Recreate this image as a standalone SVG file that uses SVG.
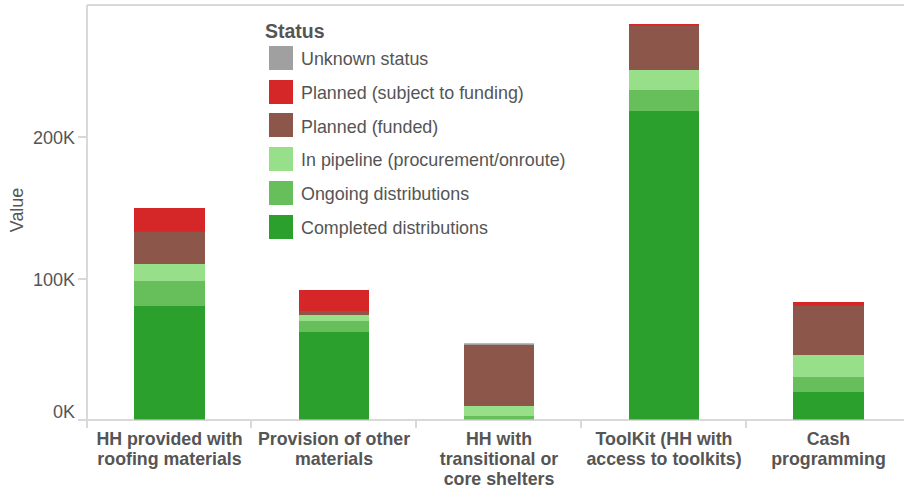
<svg xmlns="http://www.w3.org/2000/svg" width="904" height="488" viewBox="0 0 904 488">
<style>
text{font-family:"Liberation Sans",Arial,sans-serif;fill:#555}
.tick{font-size:18px;text-anchor:end}
.cat{font-size:17.8px;font-weight:bold;text-anchor:middle}
.leg{font-size:17.9px}
.ax{stroke:#d9d9d9;stroke-width:2;fill:none}
.unk{fill:#a0a0a0}.psf{fill:#d62728}.pf{fill:#8c564b}.pip{fill:#98df8a}.ong{fill:#67bf5c}.cmp{fill:#2ca02c}
</style>
<rect width="904" height="488" fill="#fff"/>
<g id="axes">
<path class="ax" d="M87,5 H904 M87,5 V420 M78,420 H904 M78,137 H87 M78,279 H87 M87,420 V428 M251,420 V428 M416,420 V428 M581,420 V428 M746,420 V428"/>
<text class="tick" x="75" y="144">200K</text>
<text class="tick" x="75" y="286">100K</text>
<text class="tick" x="75" y="418">0K</text>
<text class="leg" transform="translate(23,210) rotate(-90)" text-anchor="middle">Value</text>
</g>
<g id="bar-roofing">
<rect class="psf" x="134" y="208" width="71" height="24"/>
<rect class="pf" x="134" y="231.7" width="71" height="32.5"/>
<rect class="pip" x="134" y="264" width="71" height="17.2"/>
<rect class="ong" x="134" y="281" width="71" height="25.2"/>
<rect class="cmp" x="134" y="306" width="71" height="113.5"/>
<text class="cat" x="169.5" y="444.5">HH provided with</text>
<text class="cat" x="169.5" y="464.5">roofing materials</text>
</g>
<g id="bar-other">
<rect class="psf" x="299" y="290" width="70" height="21.2"/>
<rect class="pf" x="299" y="311" width="70" height="4.2"/>
<rect class="pip" x="299" y="315" width="70" height="6.2"/>
<rect class="ong" x="299" y="321" width="70" height="11.2"/>
<rect class="cmp" x="299" y="332" width="70" height="87.5"/>
<text class="cat" x="334" y="444.5">Provision of other</text>
<text class="cat" x="334" y="464.5">materials</text>
</g>
<g id="bar-shelters">
<rect class="unk" x="464" y="343.3" width="70" height="2"/>
<rect class="pf" x="464" y="345" width="70" height="61.2"/>
<rect class="pip" x="464" y="406" width="70" height="10.2"/>
<rect class="ong" x="464" y="416" width="70" height="3.5"/>
<text class="cat" x="499" y="444.5">HH with</text>
<text class="cat" x="499" y="464.5">transitional or</text>
<text class="cat" x="499" y="484.5">core shelters</text>
</g>
<g id="bar-toolkit">
<rect class="psf" x="629" y="24" width="70" height="2"/>
<rect class="pf" x="629" y="25.7" width="70" height="44.5"/>
<rect class="pip" x="629" y="70" width="70" height="20.2"/>
<rect class="ong" x="629" y="90" width="70" height="21.2"/>
<rect class="cmp" x="629" y="111" width="70" height="308.5"/>
<text class="cat" x="664" y="444.5">ToolKit (HH with</text>
<text class="cat" x="664" y="464.5">access to toolkits)</text>
</g>
<g id="bar-cash">
<rect class="psf" x="793" y="302" width="71" height="4"/>
<rect class="pf" x="793" y="305.7" width="71" height="49.5"/>
<rect class="pip" x="793" y="355" width="71" height="22.2"/>
<rect class="ong" x="793" y="377" width="71" height="15.2"/>
<rect class="cmp" x="793" y="392" width="71" height="27.5"/>
<text class="cat" x="828.5" y="444.5">Cash</text>
<text class="cat" x="828.5" y="464.5">programming</text>
</g>
<g id="legend">
<text x="265" y="38" style="font-size:19.5px;font-weight:bold">Status</text>
<rect class="unk" x="269" y="46" width="24" height="24"/>
<text class="leg" x="301" y="65">Unknown status</text>
<rect class="psf" x="269" y="80" width="24" height="24"/>
<text class="leg" x="301" y="99">Planned (subject to funding)</text>
<rect class="pf" x="269" y="113" width="24" height="24"/>
<text class="leg" x="301" y="132.5">Planned (funded)</text>
<rect class="pip" x="269" y="147" width="24" height="24"/>
<text class="leg" x="301" y="166">In pipeline (procurement/onroute)</text>
<rect class="ong" x="269" y="181" width="24" height="24"/>
<text class="leg" x="301" y="200">Ongoing distributions</text>
<rect class="cmp" x="269" y="215" width="24" height="24"/>
<text class="leg" x="301" y="234">Completed distributions</text>
</g>
</svg>
